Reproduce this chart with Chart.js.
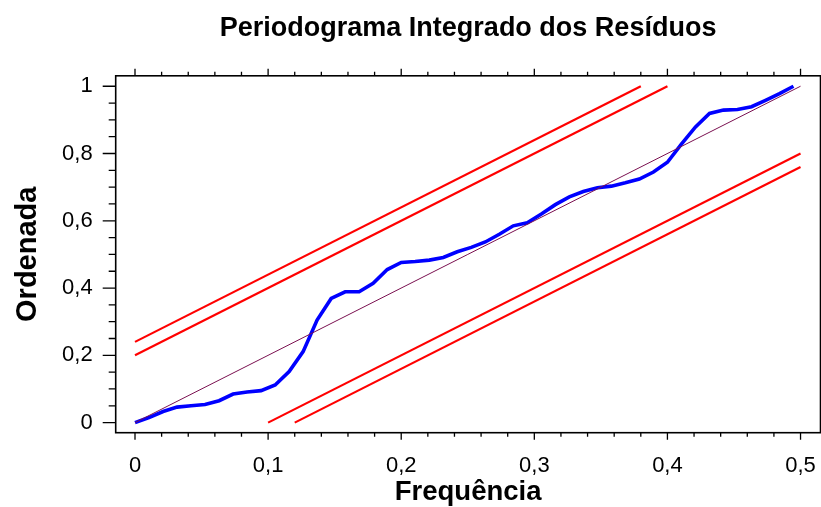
<!DOCTYPE html>
<html>
<head>
<meta charset="utf-8">
<script src="https://cdn.jsdelivr.net/npm/chart.js@4/dist/chart.umd.min.js"></script>
<style>
  body { margin: 0; background: #fff; }
  canvas { display: block; }
</style>
</head>
<body>
<canvas id="grafico" width="821" height="507"></canvas>
<script>
// Frequências de Fourier (k/95) e periodograma acumulado normalizado
const frequencias = [0, 0.0105, 0.0211, 0.0316, 0.0421, 0.0526, 0.0632, 0.0737, 0.0842, 0.0947,
  0.1053, 0.1158, 0.1263, 0.1368, 0.1474, 0.1579, 0.1684, 0.1789, 0.1895, 0.2,
  0.2105, 0.2211, 0.2316, 0.2421, 0.2526, 0.2632, 0.2737, 0.2842, 0.2947, 0.3053,
  0.3158, 0.3263, 0.3368, 0.3474, 0.3579, 0.3684, 0.3789, 0.3895, 0.4, 0.4105,
  0.4211, 0.4316, 0.4421, 0.4526, 0.4632, 0.4737, 0.4842, 0.4947];
const ordenadas = [0, 0.015, 0.033, 0.046, 0.050, 0.054, 0.065, 0.085, 0.091, 0.095,
  0.112, 0.152, 0.211, 0.305, 0.369, 0.389, 0.389, 0.414, 0.455, 0.476,
  0.479, 0.483, 0.491, 0.508, 0.521, 0.537, 0.560, 0.585, 0.594, 0.620,
  0.648, 0.671, 0.687, 0.698, 0.703, 0.713, 0.724, 0.745, 0.774, 0.828,
  0.879, 0.919, 0.929, 0.931, 0.939, 0.958, 0.978, 1.0];

// Reta de referência e bandas de confiança
const diagX = [0, 0.5], diagY = [0, 1];
const sup1X = [0, 0.38], sup1Y = [0.24, 1];
const sup2X = [0, 0.4], sup2Y = [0.2, 1];
const inf1X = [0.1, 0.5], inf1Y = [0, 0.8];
const inf2X = [0.12, 0.5], inf2Y = [0, 0.76];

// Marcas dos eixos
const xTicks = [0, 0.1, 0.2, 0.3, 0.4, 0.5];
const yTicks = [0, 0.2, 0.4, 0.6, 0.8, 1];
const xMarcas = [0, 0.02, 0.04, 0.06, 0.08, 0.1, 0.12, 0.14, 0.16, 0.18, 0.2, 0.22, 0.24, 0.26, 0.28,
  0.3, 0.32, 0.34, 0.36, 0.38, 0.4, 0.42, 0.44, 0.46, 0.48, 0.5];
const yMarcas = [0, 0.05, 0.1, 0.15, 0.2, 0.25, 0.3, 0.35, 0.4, 0.45, 0.5, 0.55, 0.6, 0.65, 0.7,
  0.75, 0.8, 0.85, 0.9, 0.95, 1];

const pares = (xs, ys) => xs.map((v, i) => ({ x: v, y: ys[i] }));
const FONTE = "'Liberation Sans', Arial, Helvetica, sans-serif";
const ehMaior = (v, lista) => lista.some(t => Math.abs(t - v) < 1e-9);

// Moldura e marcas (maiores e menores) dos quatro lados
const moldura = {
  id: 'moldura',
  afterDatasetsDraw(chart) {
    const { ctx, chartArea: a, scales: { x, y } } = chart;
    ctx.save();
    ctx.strokeStyle = '#000';
    ctx.lineWidth = 1.6;
    ctx.strokeRect(a.left, a.top, a.right - a.left, a.bottom - a.top);
    ctx.lineWidth = 1.3;
    ctx.beginPath();
    xMarcas.forEach(v => {
      const px = x.getPixelForValue(v);
      const len = ehMaior(v, xTicks) ? 7 : 4;
      ctx.moveTo(px, a.bottom); ctx.lineTo(px, a.bottom + len);
      ctx.moveTo(px, a.top); ctx.lineTo(px, a.top - len);
    });
    yMarcas.forEach(v => {
      const py = y.getPixelForValue(v);
      const len = ehMaior(v, yTicks) ? 13 : 7;
      ctx.moveTo(a.left, py); ctx.lineTo(a.left - len, py);
      ctx.moveTo(a.right, py); ctx.lineTo(a.right + len, py);
    });
    ctx.stroke();
    ctx.restore();
  }
};

const linha = (dados, cor, largura) => ({
  data: dados,
  borderColor: cor,
  borderWidth: largura,
  showLine: true,
  pointRadius: 0,
  fill: false,
  tension: 0
});

new Chart(document.getElementById('grafico'), {
  type: 'scatter',
  data: {
    datasets: [
      linha(pares(diagX, diagY), '#7a1050', 1),
      linha(pares(frequencias, ordenadas), '#0000ff', 3.6),
      linha(pares(sup1X, sup1Y), '#ff0000', 2.2),
      linha(pares(sup2X, sup2Y), '#ff0000', 2.2),
      linha(pares(inf1X, inf1Y), '#ff0000', 2.2),
      linha(pares(inf2X, inf2Y), '#ff0000', 2.2)
    ]
  },
  options: {
    responsive: false,
    animation: false,
    layout: { padding: { left: 0, right: 0.5, top: 0, bottom: 0 } },
    plugins: {
      legend: { display: false },
      tooltip: { enabled: false },
      title: {
        display: true,
        fullSize: false,
        text: 'Periodograma Integrado dos Resíduos',
        color: '#000',
        font: { family: FONTE, size: 27, weight: 'bold', lineHeight: 1 },
        padding: { top: 15.5, bottom: 33.3 }
      }
    },
    scales: {
      x: {
        type: 'linear',
        min: -0.0145,
        max: 0.515,
        grid: { display: false },
        border: { display: false },
        afterBuildTicks: s => { s.ticks = xTicks.map(v => ({ value: v })); },
        afterFit: s => { s.height = 74.3; s.paddingLeft = 0; s.paddingRight = 0; },
        ticks: {
          padding: 12,
          maxRotation: 0,
          color: '#000',
          font: { family: FONTE, size: 22 },
          callback: v => String(v).replace('.', ',')
        },
        title: {
          display: true,
          text: 'Frequência',
          color: '#000',
          font: { family: FONTE, size: 27.5, weight: 'bold', lineHeight: 1 },
          padding: { top: 0, bottom: 1.2 }
        }
      },
      y: {
        type: 'linear',
        min: -0.03,
        max: 1.031,
        grid: { display: false },
        border: { display: false },
        afterBuildTicks: s => { s.ticks = yTicks.map(v => ({ value: v })); },
        afterFit: s => { s.width = 115.7; s.paddingTop = 0; s.paddingBottom = 0; },
        ticks: {
          padding: 15,
          color: '#000',
          font: { family: FONTE, size: 22 },
          callback: v => String(v).replace('.', ',')
        },
        title: {
          display: true,
          text: 'Ordenada',
          color: '#000',
          font: { family: FONTE, size: 29, weight: 'bold', lineHeight: 1 },
          padding: { top: 13.5, bottom: 0 }
        }
      }
    }
  },
  plugins: [moldura]
});
</script>
</body>
</html>
